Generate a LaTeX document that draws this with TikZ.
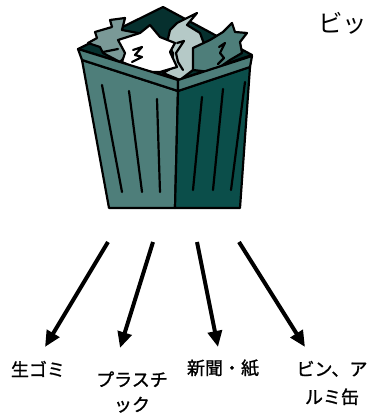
\documentclass[tikz,border=0pt]{standalone}
\usepackage{fontspec}
\setmainfont{Noto Sans CJK JP}
\newfontfamily\heavyjp{Noto Sans CJK JP}[FakeBold=1.2]
\usetikzlibrary{arrows.meta}

\definecolor{binlight}{HTML}{4E7E7A}
\definecolor{bindark}{HTML}{0B4E4A}
\definecolor{bininside}{HTML}{06302E}
\definecolor{papergrey}{HTML}{7A9997}
\definecolor{paperpale}{HTML}{B5C9C7}

\begin{document}
\begin{tikzpicture}[x=1pt, y=-1pt, line join=round,
  outline/.style={draw=black, line width=2.2pt},
  stripe/.style={line width=2.2pt, line cap=round},
  sortarrow/.style={line width=4pt, -{Triangle[length=16pt,width=14pt]}},
  wastelabel/.style={font=\heavyjp\fontsize{18}{28}\selectfont, align=center, inner sep=0pt}]
\useasboundingbox (0,0) rectangle (368,414);

% inside of the bin
\fill[bininside, outline] (78,49) -- (163,7) -- (252,55) -- (178,80) -- cycle;

% crumpled paper
\filldraw[papergrey, outline] (95,32) -- (112,27) -- (110,20) -- (125,18) -- (122,30) -- (138,33)
  -- (127,43) -- (132,50) -- (120,62) -- (103,53) -- (100,47) -- (88,43) -- (97,38) -- cycle;
\filldraw[paperpale, outline] (170,30) -- (177,23) -- (197,13) -- (187,25) -- (200,33) -- (207,52)
  -- (197,55) -- (193,70) -- (180,80) -- (163,73) -- (172,68) -- (173,53) -- (167,43) -- cycle;
\filldraw[white, outline] (118,40) -- (140,33) -- (150,25) -- (160,37) -- (175,43) -- (170,52)
  -- (177,67) -- (160,72) -- (150,72) -- (133,67) -- (122,62) -- (125,53) -- cycle;
\filldraw[binlight, outline] (193,48) -- (210,40) -- (223,32) -- (232,23) -- (235,32) -- (247,33)
  -- (240,42) -- (242,53) -- (230,60) -- (220,67) -- (210,72) -- (193,70) -- cycle;
\draw[stripe] (103,52) -- (118,49);
\draw[stripe] (133,50) -- (142,47) -- (135,55) -- (142,57) -- (132,62);
\draw[stripe] (177,43) -- (184,41) -- (176,53) -- (178,62) -- (183,70);
\draw[stripe] (219,47) -- (225,43) -- (220,53) -- (224,58) -- (218,64);

% body and rim
\filldraw[binlight, outline] (82,60) -- (178,91) -- (175,208) -- (109,208) -- cycle;
\filldraw[bindark, outline] (178,91) -- (250,67) -- (240,208) -- (175,208) -- cycle;
\filldraw[binlight, outline] (78,49) -- (178,80) -- (178,91) -- (82,60) -- cycle;
\filldraw[binlight, outline] (178,80) -- (252,56) -- (250,67) -- (178,91) -- cycle;

% ribs
\foreach \xa/\ya/\xb/\yb in {102/85/122/192, 129/91/142/192, 157/99/160/192,
                             202/97/193/190, 223/89/213/190, 245/82/231/190}
  \draw[stripe] (\xa,\ya) -- (\xb,\yb);

\node[anchor=west, inner sep=0pt, font=\fontsize{24.5}{25}\selectfont] (title) at (318,23) {ビッ};

% categories
\node[wastelabel] (raw) at (38,369) {生ゴミ};
\node[wastelabel, font=\heavyjp\fontsize{18}{25}\selectfont] (plastic) at (132,392) {プラスチ\\ック};
\node[wastelabel] (paper) at (223,368) {新聞・紙};
\node[wastelabel] (bottle) at (332,383) {ビン、ア\\ルミ缶};

\coordinate (s1) at (108,242);
\coordinate (s2) at (153,242);
\coordinate (s3) at (197,242);
\coordinate (s4) at (239,242);
\coordinate (t1) at (45,347);
\coordinate (t2) at (120,348);
\coordinate (t3) at (218,347);
\coordinate (t4) at (305,347);
\foreach \i in {1,...,4}
  \draw[sortarrow] (s\i) -- (t\i);
\end{tikzpicture}
\end{document}
